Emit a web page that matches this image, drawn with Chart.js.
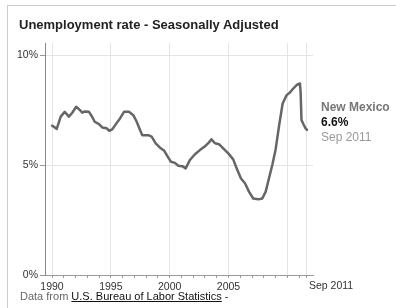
<!DOCTYPE html>
<html>
<head>
<meta charset="utf-8">
<script src="https://cdn.jsdelivr.net/npm/chart.js@4.4.1/dist/chart.umd.min.js"></script>
<style>
  body { margin: 0; background: #fff; font-family: Arial, "Liberation Sans", sans-serif; }
  #wrap { position: relative; width: 396px; height: 308px; overflow: hidden; }
  #frame { position: absolute; left: 7px; top: 5px; width: 420px; height: 400px; border-top: 1px solid #ccc; border-left: 1px solid #ccc; }
  canvas { position: absolute; left: 0; top: 0; }
  #title { position: absolute; left: 19px; top: 17px; font-size: 13px; font-weight: bold; color: #222; white-space: nowrap; }
  #footer { position: absolute; left: 20px; top: 290px; font-size: 11px; color: #666; white-space: nowrap; }
  #footer a { color: #111; text-decoration: underline; }
  #note { position: absolute; left: 321px; top: 100px; font-size: 12px; line-height: 15px; white-space: nowrap; }
  #note .name { color: #777; font-weight: bold; }
  #note .val { color: #111; font-weight: bold; }
  #note .when { color: #999; }
</style>
</head>
<body>
<div id="wrap">
  <div id="frame"></div>
  <canvas id="chart" width="396" height="308"></canvas>
  <div id="title">Unemployment rate - Seasonally Adjusted</div>
  <div id="note"></div>
  <div id="footer">Data from <a href="#">U.S. Bureau of Labor Statistics</a> <span style="color:#333">-</span></div>
</div>
<script>
const region = 'New Mexico';
const lastLabel = 'Sep 2011';
const lastDate = 2011.67;

// decimal years
const dates = [
  1990.0, 1990.17, 1990.4, 1990.74, 1991.08, 1991.44, 1991.72, 1992.06, 1992.38, 1992.57,
  1992.78, 1993.14, 1993.37, 1993.63, 1993.99, 1994.27, 1994.65, 1994.87, 1995.12, 1995.41,
  1995.78, 1996.12, 1996.54, 1996.91, 1997.2, 1997.48, 1997.67, 1998.18, 1998.47, 1998.81,
  1999.18, 1999.54, 1999.83, 2000.11, 2000.45, 2000.73, 2001.07, 2001.36, 2001.72, 2002.15,
  2002.57, 2003.0, 2003.34, 2003.55, 2003.85, 2004.19, 2004.55, 2004.98, 2005.4, 2005.69,
  2006.06, 2006.4, 2006.74, 2007.1, 2007.53, 2007.87, 2008.16, 2008.44, 2008.72, 2009.0,
  2009.3, 2009.6, 2009.94, 2010.22, 2010.5, 2010.79, 2011.07, 2011.13, 2011.2, 2011.4,
  2011.55, 2011.67
];
const rates = [
  6.79, 6.74, 6.64, 7.2, 7.42, 7.2, 7.38, 7.65, 7.5, 7.38,
  7.44, 7.42, 7.23, 6.97, 6.86, 6.71, 6.67, 6.56, 6.62, 6.85,
  7.12, 7.42, 7.42, 7.27, 6.97, 6.59, 6.36, 6.36, 6.29, 5.99,
  5.79, 5.65, 5.38, 5.15, 5.1, 4.97, 4.95, 4.85, 5.23, 5.49,
  5.68, 5.85, 6.03, 6.17, 5.99, 5.95, 5.76, 5.53, 5.26, 4.85,
  4.39, 4.17, 3.79, 3.48, 3.44, 3.48, 3.79, 4.4, 5.0, 5.7,
  6.8, 7.8, 8.18, 8.3, 8.48, 8.64, 8.71, 8.3, 7.05, 6.82,
  6.67, 6.6
];

const yTicks = [0, 5, 10];
const labelYears = [1990, 1995, 2000, 2005];
const gridYears = [1990, 1995, 2000, 2005, 2010];
const tickYears = [];
for (let y = 1990; y <= 2011; y++) tickYears.push(y);
tickYears.push(lastDate);

document.getElementById('note').innerHTML =
  '<div class="name">' + region + '</div>' +
  '<div class="val">' + rates[rates.length - 1].toFixed(1) + '%</div>' +
  '<div class="when">' + lastLabel + '</div>';

const tickFont = { family: 'Arial, "Liberation Sans", sans-serif', size: 10.5 };

const lastTickLabel = {
  id: 'lastTickLabel',
  afterDraw(chart) {
    const xs = chart.scales.x;
    const ctx = chart.ctx;
    ctx.save();
    ctx.font = '10.5px Arial, "Liberation Sans", sans-serif';
    ctx.fillStyle = '#333';
    ctx.textAlign = 'left';
    ctx.textBaseline = 'top';
    ctx.fillText(lastLabel, xs.getPixelForValue(lastDate) + 2, xs.top + 6);
    ctx.restore();
  }
};

new Chart(document.getElementById('chart'), {
  type: 'line',
  data: {
    datasets: [{
      label: region,
      data: dates.map((d, i) => ({ x: d, y: rates[i] })),
      borderColor: '#666',
      borderWidth: 2.5,
      borderJoinStyle: 'round',
      borderCapStyle: 'round',
      pointRadius: 0,
      tension: 0,
      fill: false
    }]
  },
  options: {
    responsive: false,
    animation: false,
    devicePixelRatio: 1,
    layout: { padding: { top: 43, right: 83, bottom: 0, left: 0 } },
    plugins: { legend: { display: false }, tooltip: { enabled: false } },
    scales: {
      x: {
        type: 'linear',
        min: 1989.405,
        max: 2012.18,
        afterBuildTicks: s => { s.ticks = tickYears.map(v => ({ value: v })); },
        afterFit: s => { s.height = 33; },
        grid: {
          color: c => (gridYears.includes(c.tick.value) || c.tick.value === lastDate) ? '#e4e4e4' : 'rgba(0,0,0,0)',
          tickColor: '#999',
          tickLength: 3,
          lineWidth: 1
        },
        border: { color: '#999', width: 1 },
        ticks: {
          autoSkip: false,
          maxRotation: 0,
          minRotation: 0,
          padding: 3,
          color: '#333',
          font: tickFont,
          callback: v => labelYears.includes(v) ? String(v) : ''
        }
      },
      y: {
        min: 0,
        max: 10.55,
        afterBuildTicks: s => { s.ticks = yTicks.map(v => ({ value: v })); },
        afterFit: s => { s.width = 45; },
        grid: {
          color: c => c.tick.value === 0 ? 'rgba(0,0,0,0)' : '#e4e4e4',
          tickColor: '#999',
          tickLength: 5
        },
        border: { color: '#888', width: 1 },
        ticks: {
          padding: 2,
          color: '#333',
          font: tickFont,
          callback: v => v + '%'
        }
      }
    }
  },
  plugins: [lastTickLabel]
});
</script>
</body>
</html>
